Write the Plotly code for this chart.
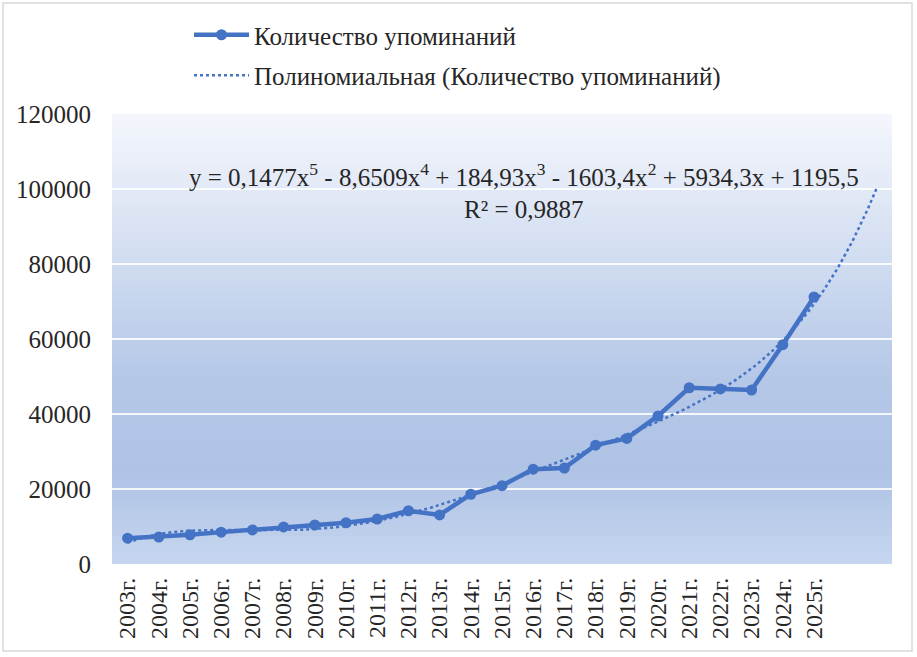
import numpy as np
import plotly.graph_objects as go

# годы и количество упоминаний (по графику)
years = ["2003г.", "2004г.", "2005г.", "2006г.", "2007г.", "2008г.", "2009г.", "2010г.",
         "2011г.", "2012г.", "2013г.", "2014г.", "2015г.", "2016г.", "2017г.", "2018г.",
         "2019г.", "2020г.", "2021г.", "2022г.", "2023г.", "2024г.", "2025г."]
mentions = [6900, 7200, 7800, 8500, 9100, 9900, 10400, 11000, 12000, 14200, 13100, 18600,
            20900, 25300, 25600, 31700, 33500, 39500, 47000, 46700, 46400, 58500, 71200]

# коэффициенты полиномиального тренда (степень 5, x = 1..n), как в подписи на графике
trend_coefs = [0.1477, -8.6509, 184.93, -1603.4, 5934.3, 1195.5]
forecast_forward = 2

FONT = "Times New Roman, Liberation Serif, DejaVu Serif, serif"
BLUE = "#4472C4"
TXT = "#262626"

W, H = 917, 657
L, R, T, B = 112, 25, 114, 93

fig = go.Figure()

idx = list(range(len(years)))
fig.add_scatter(
    x=idx, y=mentions, mode="lines+markers",
    name="Количество упоминаний",
    line=dict(color=BLUE, width=4.5),
    marker=dict(color=BLUE, size=11),
    legendgroup="a",
)

# линия тренда по коэффициентам из подписи
t = np.linspace(1, len(years) + forecast_forward, 300)
fig.add_scatter(
    x=t - 1, y=np.polyval(trend_coefs, t), mode="lines",
    name="Полиномиальная (Количество упоминаний)",
    line=dict(color=BLUE, width=2.5, dash="dot"),
    legendgroup="b",
)

# градиентная заливка области построения
stops = [(0.0, (198, 214, 239)), (0.2, (175, 195, 229)), (0.4, (180, 199, 231)),
         (0.6, (200, 214, 238)), (0.8, (223, 231, 245)), (1.0, (244, 246, 252))]
n = 80
for i in range(n):
    f = (i + 0.5) / n
    for (a, ca), (b, cb) in zip(stops[:-1], stops[1:]):
        if a <= f <= b:
            k = (f - a) / (b - a)
            c = [round(ca[j] + (cb[j] - ca[j]) * k) for j in range(3)]
            break
    fig.add_shape(type="rect", xref="paper", yref="paper", x0=0, x1=1,
                  y0=i / n, y1=min(1, (i + 1) / n + 0.006),
                  fillcolor="rgb(%d,%d,%d)" % tuple(c),
                  line_width=0, layer="below")

# рамка диаграммы
pw, ph = W - L - R, H - T - B
fig.add_shape(type="rect", xref="paper", yref="paper",
              x0=(3 - L) / pw, x1=(912 - L) / pw,
              y0=(H - B - 651) / ph, y1=(H - B - 3) / ph,
              line=dict(color="#d9d9d9", width=1.5), layer="below")

fig.add_annotation(
    xref="paper", yref="paper", x=(524 - L) / pw, y=(H - B - 191) / ph,
    text="y = 0,1477x<sup>5</sup> - 8,6509x<sup>4</sup> + 184,93x<sup>3</sup> - 1603,4x<sup>2</sup>"
         " + 5934,3x + 1195,5<br>R² = 0,9887",
    showarrow=False, align="center", xanchor="center", yanchor="middle",
    font=dict(family=FONT, size=25, color=TXT),
)

fig.update_xaxes(
    range=[-0.5, len(years) + forecast_forward - 0.5],
    tickvals=idx, ticktext=years, tickangle=-90,
    showgrid=False, zeroline=False, showline=False,
    ticklabelstandoff=8,
    tickfont=dict(family=FONT, size=24, color=TXT),
)
fig.update_yaxes(
    range=[0, 120000], dtick=20000, tickformat="d",
    showgrid=True, gridcolor="rgba(255,255,255,0.85)", gridwidth=1.5,
    zeroline=False, showline=False,
    ticklabelstandoff=20,
    tickfont=dict(family=FONT, size=25, color=TXT),
)

fig.update_layout(
    width=W, height=H,
    margin=dict(l=L, r=R, t=T, b=B),
    paper_bgcolor="white",
    plot_bgcolor="rgba(0,0,0,0)",
    showlegend=True,
    legend=dict(
        x=(189 - L) / pw, y=(H - B - 12) / ph, xanchor="left", yanchor="top",
        orientation="v", traceorder="grouped", tracegroupgap=5,
        itemwidth=55, bgcolor="rgba(0,0,0,0)",
        font=dict(family=FONT, size=25, color=TXT),
    ),
)

fig.write_html("out.html", config={"displayModeBar": False},
               post_script="document.body.style.margin='0';")
